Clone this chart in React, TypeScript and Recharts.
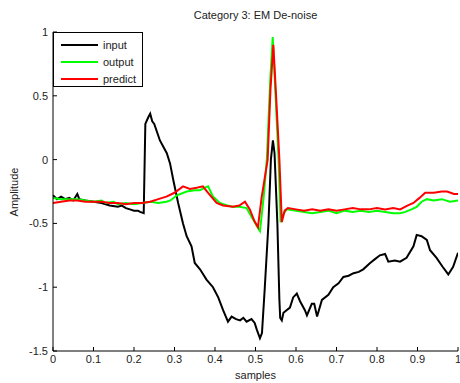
import React from 'react';
import { LineChart, Line, XAxis, YAxis, Legend } from 'recharts';

const xTicks = [0, 0.1, 0.2, 0.3, 0.4, 0.5, 0.6, 0.7, 0.8, 0.9, 1];
const yTicks = [-1.5, -1, -0.5, 0, 0.5, 1];

const inputX = [0, 0.01, 0.02, 0.03, 0.04, 0.05, 0.06, 0.065, 0.08, 0.1, 0.12, 0.14, 0.16, 0.17, 0.18, 0.19, 0.2, 0.21, 0.215, 0.224, 0.228, 0.235, 0.24, 0.245, 0.25, 0.264, 0.281, 0.289, 0.297, 0.309, 0.321, 0.33, 0.342, 0.35, 0.363, 0.379, 0.395, 0.408, 0.42, 0.432, 0.441, 0.452, 0.462, 0.47, 0.478, 0.49, 0.498, 0.503, 0.511, 0.516, 0.523, 0.532, 0.538, 0.543, 0.547, 0.554, 0.559, 0.561, 0.565, 0.569, 0.585, 0.593, 0.602, 0.61, 0.622, 0.627, 0.639, 0.645, 0.652, 0.664, 0.68, 0.692, 0.705, 0.717, 0.73, 0.742, 0.755, 0.766, 0.783, 0.795, 0.807, 0.82, 0.828, 0.844, 0.857, 0.873, 0.89, 0.898, 0.91, 0.923, 0.931, 0.947, 0.962, 0.976, 0.988, 1.0];
const inputY = [-0.28, -0.31, -0.29, -0.31, -0.3, -0.32, -0.27, -0.31, -0.32, -0.33, -0.34, -0.36, -0.37, -0.36, -0.38, -0.39, -0.4, -0.4, -0.41, -0.42, 0.28, 0.33, 0.36, 0.3, 0.28, 0.15, 0.05, -0.03, -0.16, -0.34, -0.5, -0.6, -0.68, -0.81, -0.86, -0.94, -1.0, -1.08, -1.18, -1.27, -1.23, -1.25, -1.26, -1.24, -1.27, -1.25, -1.28, -1.33, -1.4, -1.36, -1.0, -0.5, 0.0, 0.15, 0.05, -0.5, -1.1, -1.24, -1.26, -1.2, -1.16, -1.08, -1.05, -1.11, -1.18, -1.22, -1.13, -1.13, -1.23, -1.1, -1.06, -1.0, -0.97, -0.92, -0.91, -0.89, -0.88, -0.86, -0.81, -0.78, -0.75, -0.74, -0.8, -0.79, -0.8, -0.77, -0.68, -0.59, -0.6, -0.63, -0.71, -0.77, -0.84, -0.9, -0.84, -0.73];

const outputX = [0, 0.02, 0.04, 0.06, 0.08, 0.1, 0.12, 0.13, 0.15, 0.16, 0.18, 0.2, 0.22, 0.24, 0.26, 0.28, 0.29, 0.306, 0.33, 0.35, 0.363, 0.375, 0.383, 0.395, 0.412, 0.43, 0.444, 0.46, 0.478, 0.494, 0.505, 0.511, 0.52, 0.528, 0.536, 0.5425, 0.548, 0.557, 0.562, 0.57, 0.577, 0.6, 0.62, 0.64, 0.66, 0.68, 0.7, 0.72, 0.74, 0.76, 0.78, 0.8, 0.82, 0.84, 0.857, 0.87, 0.885, 0.898, 0.91, 0.923, 0.94, 0.96, 0.98, 1.0];
const outputY = [-0.3, -0.31, -0.31, -0.31, -0.32, -0.33, -0.32, -0.34, -0.33, -0.35, -0.34, -0.35, -0.34, -0.33, -0.34, -0.33, -0.32, -0.28, -0.25, -0.24, -0.24, -0.22, -0.21, -0.29, -0.34, -0.36, -0.37, -0.37, -0.38, -0.47, -0.53, -0.56, -0.3, 0.0, 0.6, 0.96, 0.6, 0.0, -0.49, -0.42, -0.39, -0.4, -0.41, -0.42, -0.41, -0.4, -0.42, -0.4, -0.41, -0.4, -0.41, -0.4, -0.41, -0.42, -0.42, -0.41, -0.39, -0.37, -0.33, -0.31, -0.32, -0.31, -0.33, -0.32];

const predictX = [0, 0.02, 0.04, 0.06, 0.08, 0.1, 0.12, 0.14, 0.16, 0.18, 0.2, 0.22, 0.24, 0.26, 0.28, 0.3, 0.321, 0.338, 0.355, 0.37, 0.383, 0.404, 0.42, 0.444, 0.46, 0.474, 0.486, 0.497, 0.506, 0.515, 0.53, 0.537, 0.544, 0.55, 0.559, 0.565, 0.572, 0.58, 0.6, 0.62, 0.64, 0.66, 0.68, 0.7, 0.72, 0.74, 0.76, 0.78, 0.8, 0.82, 0.84, 0.857, 0.875, 0.89, 0.905, 0.919, 0.94, 0.96, 0.973, 0.99, 1.0];
const predictY = [-0.34, -0.33, -0.32, -0.32, -0.33, -0.33, -0.33, -0.34, -0.34, -0.35, -0.34, -0.34, -0.33, -0.31, -0.29, -0.26, -0.21, -0.23, -0.22, -0.21, -0.26, -0.34, -0.36, -0.37, -0.36, -0.33, -0.39, -0.48, -0.53, -0.3, 0.0, 0.55, 0.9, 0.55, 0.0, -0.49, -0.4, -0.38, -0.39, -0.4, -0.39, -0.4, -0.39, -0.4, -0.39, -0.38, -0.39, -0.39, -0.38, -0.39, -0.38, -0.39, -0.36, -0.34, -0.3, -0.26, -0.26, -0.25, -0.25, -0.27, -0.27];

const toData = (xs: number[], ys: number[]) => xs.map((x, i) => ({ x, y: ys[i] }));
const inputData = toData(inputX, inputY);
const outputData = toData(outputX, outputY);
const predictData = toData(predictX, predictY);

const FONT = '"Liberation Sans", Arial, sans-serif';
const tickStyle = { fontSize: 11, fill: '#222', fontFamily: FONT };

const LegendBox = (props: any) => {
  const items = props.payload || [];
  return (
    <div style={{ background: '#fff', border: '1px solid #000', width: 90, height: 55, boxSizing: 'border-box', fontFamily: FONT, fontSize: 11, color: '#222', paddingTop: 3 }}>
      {items.map((it: any) => (
        <div key={it.value} style={{ display: 'flex', alignItems: 'center', height: 17 }}>
          <div style={{ width: 37, height: 2, background: it.color, marginLeft: 7, marginRight: 5 }} />
          <span>{it.value}</span>
        </div>
      ))}
    </div>
  );
};

export default function App() {
  return (
    <div style={{ position: 'absolute', left: 0, top: 0, width: 460, height: 383, background: '#fff' }}>
      <div style={{ position: 'absolute', left: 0, top: 9, width: 511, textAlign: 'center', fontFamily: FONT, fontSize: 11, color: '#222' }}>
        Category 3: EM De-noise
      </div>
      <div style={{ position: 'absolute', left: 0, top: 369, width: 511, textAlign: 'center', fontFamily: FONT, fontSize: 11, color: '#222' }}>
        samples
      </div>
      <div style={{ position: 'absolute', left: 14, top: 192, transform: 'translate(-50%, -50%) rotate(-90deg)', fontFamily: FONT, fontSize: 11, color: '#222', whiteSpace: 'nowrap' }}>
        Amplitude
      </div>
      <LineChart width={460} height={383} margin={{ top: 32, right: 2, bottom: 0, left: 0 }} style={{ position: 'absolute', left: 0, top: 0 }}>
        <XAxis xAxisId="b" dataKey="x" type="number" domain={[0, 1]} ticks={xTicks} allowDataOverflow height={32} orientation="bottom"
          tickSize={-4} tickMargin={8} tick={tickStyle} axisLine={{ stroke: '#000' }} tickLine={{ stroke: '#000' }} interval={0} />
        <XAxis xAxisId="t" dataKey="x" type="number" domain={[0, 1]} ticks={xTicks} allowDataOverflow height={0} orientation="top"
          tickSize={-4} tick={false} axisLine={{ stroke: '#000' }} tickLine={{ stroke: '#000' }} interval={0} />
        <YAxis yAxisId="l" type="number" domain={[-1.5, 1]} ticks={yTicks} allowDataOverflow width={53} orientation="left"
          tickSize={-4} tickMargin={9} tick={tickStyle} axisLine={{ stroke: '#000' }} tickLine={{ stroke: '#000' }} interval={0} />
        <YAxis yAxisId="r" type="number" domain={[-1.5, 1]} ticks={yTicks} allowDataOverflow width={0} orientation="right"
          tickSize={-4} tick={false} axisLine={{ stroke: '#000' }} tickLine={{ stroke: '#000' }} interval={0} />
        <Legend layout="vertical" align="center" verticalAlign="middle" content={<LegendBox />}
          wrapperStyle={{ left: 53, top: 32, width: 90, height: 55 }} />
        <Line xAxisId="b" yAxisId="l" data={inputData} dataKey="y" name="input" stroke="#000000" strokeWidth={2} dot={false} isAnimationActive={false} type="linear" />
        <Line xAxisId="b" yAxisId="l" data={outputData} dataKey="y" name="output" stroke="#00ff00" strokeWidth={2} dot={false} isAnimationActive={false} type="linear" />
        <Line xAxisId="b" yAxisId="l" data={predictData} dataKey="y" name="predict" stroke="#ff0000" strokeWidth={2} dot={false} isAnimationActive={false} type="linear" />
      </LineChart>
    </div>
  );
}
